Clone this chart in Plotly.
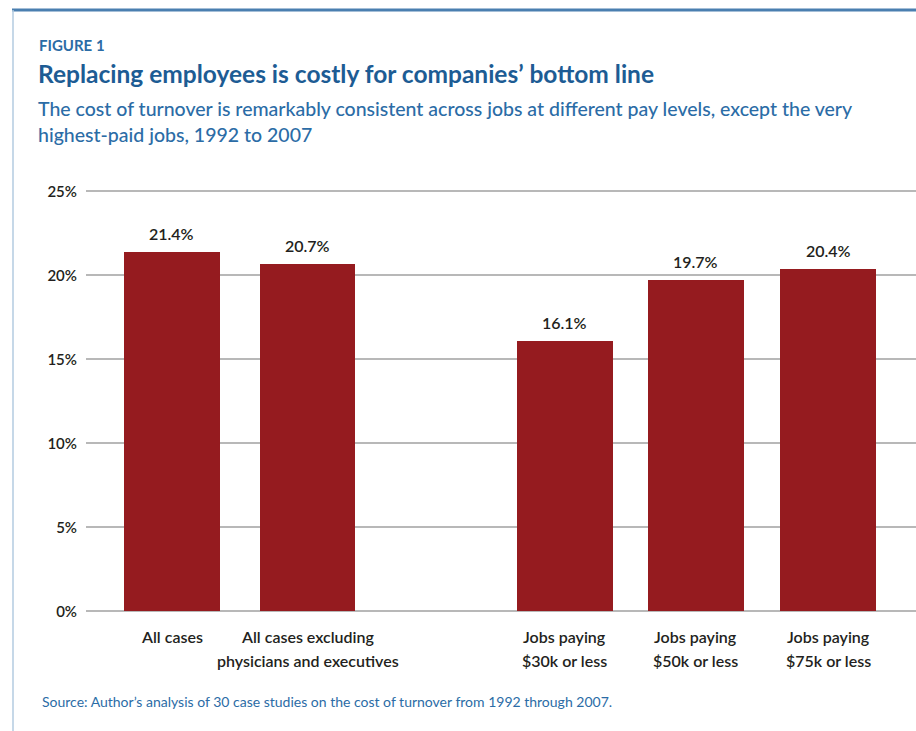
import plotly.graph_objects as go

# Data
categories = [
    "All cases",
    "All cases excluding<br>physicians and executives",
    "Jobs paying<br>$30k or less",
    "Jobs paying<br>$50k or less",
    "Jobs paying<br>$75k or less",
]
turnover_cost_pct = [21.4, 20.7, 16.1, 19.7, 20.4]
y_ticks = [0, 5, 10, 15, 20, 25]
y_tick_labels = ["0%", "5%", "10%", "15%", "20%", "25%"]

# Slot positions along x: the two aggregate bars, a gap, then the pay bands
slots = [0, 1.035, 3, 4, 5.01]

W, H = 916, 731
ML, MR, MT, MB = 86, 0, 188, 118
PW, PH = W - ML - MR, H - MT - MB

BAR = "#951b1f"
BLUE_DARK = "#1d5c94"
BLUE = "#2b6ca6"
TEXT = "#231f20"
FONT = "Lato, 'Open Sans', sans-serif"


def px(x):
    return (x - ML) / PW


def py(y):
    return (H - MB - y) / PH


fig = go.Figure(
    go.Bar(
        x=slots,
        y=turnover_cost_pct,
        width=0.73,
        marker=dict(color=BAR, line=dict(width=0)),
        hoverinfo="skip",
    )
)

annotations = []

# Value labels above each bar
for s, v in zip(slots, turnover_cost_pct):
    annotations.append(dict(
        x=s, y=v, xref="x", yref="y", text=f"{v:.1f}%", showarrow=False,
        xanchor="center", yanchor="bottom", yshift=7,
        font=dict(family=FONT, size=16, color=TEXT, weight=600),
    ))

# Category labels under the axis, one annotation per line
for s, label in zip(slots, categories):
    for i, line in enumerate(label.split("<br>")):
        annotations.append(dict(
            x=s, y=0, xref="x", yref="y", text=line, showarrow=False,
            xanchor="center", yanchor="middle", yshift=-25 - 24 * i,
            font=dict(family=FONT, size=16, color=TEXT, weight=600),
        ))

# Heading block
annotations += [
    dict(x=px(37), y=py(45), xref="paper", yref="paper", text="<b>FIGURE 1</b>",
         showarrow=False, xanchor="left", yanchor="middle",
         font=dict(family=FONT, size=15, color=BLUE)),
    dict(x=px(36), y=py(73), xref="paper", yref="paper",
         text="<b>Replacing employees is costly for companies\u2019 bottom line</b>",
         showarrow=False, xanchor="left", yanchor="middle",
         font=dict(family=FONT, size=24.5, color=BLUE_DARK)),
    dict(x=px(36), y=py(108), xref="paper", yref="paper",
         text="The cost of turnover is remarkably consistent across jobs at different pay levels, except the very",
         showarrow=False, xanchor="left", yanchor="middle",
         font=dict(family=FONT, size=19.5, color=BLUE, weight=500)),
    dict(x=px(36), y=py(135), xref="paper", yref="paper",
         text="highest-paid jobs, 1992 to 2007",
         showarrow=False, xanchor="left", yanchor="middle",
         font=dict(family=FONT, size=19.5, color=BLUE, weight=500)),
    dict(x=px(40), y=py(701), xref="paper", yref="paper",
         text="Source: Author\u2019s analysis of 30 case studies on the cost of turnover from 1992 through 2007.",
         showarrow=False, xanchor="left", yanchor="middle",
         font=dict(family=FONT, size=14, color=BLUE)),
]

shapes = [
    # frame: dark rule across the top, light rule down the left
    dict(type="line", xref="paper", yref="paper", x0=px(12), x1=px(916),
         y0=py(10), y1=py(10), line=dict(color="#4a7fb0", width=3)),
    dict(type="line", xref="paper", yref="paper", x0=px(13), x1=px(13),
         y0=py(10), y1=py(731), line=dict(color="#b3cbe0", width=1.5)),
]

fig.update_layout(
    width=W, height=H,
    margin=dict(l=ML, r=MR, t=MT, b=MB),
    paper_bgcolor="white", plot_bgcolor="white",
    showlegend=False,
    annotations=annotations,
    shapes=shapes,
    xaxis=dict(range=[-0.656, 5.68], showticklabels=False, showgrid=False,
               zeroline=False, showline=False, fixedrange=True),
    yaxis=dict(range=[-0.1, 25.2], tickvals=y_ticks, ticktext=y_tick_labels,
               showgrid=True, gridcolor="#b8b8b8", gridwidth=2,
               zeroline=False, showline=False, ticks="", ticklabelstandoff=8,
               tickfont=dict(family=FONT, size=15, color=TEXT, weight=600),
               fixedrange=True),
    bargap=0,
)

fig.write_html("out.html", config={"displayModeBar": False})
